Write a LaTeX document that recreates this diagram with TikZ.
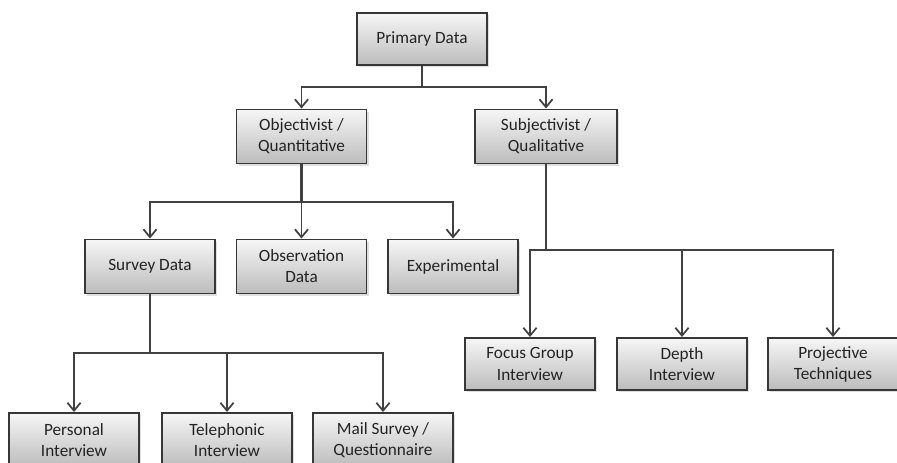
\documentclass[tikz,border=0pt]{standalone}
\usepackage{fontspec}
\setmainfont{Carlito}
\usepackage{xcolor}
\definecolor{boxline}{RGB}{55,55,55}
\definecolor{linkline}{RGB}{65,65,65}
\definecolor{boxtop}{RGB}{246,246,246}
\definecolor{boxbottom}{RGB}{188,188,188}
\definecolor{boxtext}{RGB}{35,35,35}
\usepackage{tikz}
\usetikzlibrary{arrows.meta, positioning, shadows}

\begin{document}
\begin{tikzpicture}[x=0.02cm, y=-0.02cm,
  databox/.style={draw=boxline, line width=1.1pt, top color=boxtop, bottom color=boxbottom,
    minimum width=2.6cm, minimum height=1.08cm, inner sep=2pt, align=center,
    text=boxtext, font=\fontsize{9.8}{12}\selectfont,
    drop shadow={shadow xshift=1.2pt, shadow yshift=-1.4pt, opacity=0.25}},
  trunk/.style={draw=linkline, line width=1.5pt},
  branch/.style={draw=linkline, line width=1pt, -{Straight Barb[length=4.5pt, width=7.5pt, line width=1pt]}}]
  \useasboundingbox (0,0) rectangle (897,463);

  % top level
  \node[databox, minimum height=1.04cm] (primary) at (422,39) {Primary Data};

  % second level
  \node[databox] (objective) at (301.5,136.5) {Objectivist /\\Quantitative};
  \node[databox, minimum width=2.84cm] (subjective) at (546,136.5) {Subjectivist /\\Qualitative};

  % objectivist branch
  \node[databox] (survey) at (150,266.5) {Survey Data};
  \node[databox] (observe) at (301.5,266.5) {Observation\\Data};
  \node[databox] (experiment) at (453,266.5) {Experimental};

  % subjectivist branch
  \node[databox, minimum height=1.04cm] (focus) at (530,364) {Focus Group\\Interview};
  \node[databox, minimum height=1.04cm] (depth) at (682,364) {Depth\\Interview};
  \node[databox, minimum height=1.04cm] (projective) at (833,364) {Projective\\Techniques};

  % survey branch
  \node[databox] (personal) at (74,440) {Personal\\Interview};
  \node[databox] (phone) at (227,440) {Telephonic\\Interview};
  \node[databox, minimum width=2.8cm] (mail) at (383,440) {Mail Survey /\\Questionnaire};

  % junctions
  \coordinate (jprimary) at (422,87);
  \coordinate (jobjective) at (301.5,202);
  \coordinate (jsubjective) at (546,250);
  \coordinate (jsurvey) at (150,353);

  % connectors
  \draw[trunk] (primary.south) -- (jprimary);
  \draw[branch] (jprimary) -| (objective);
  \draw[branch] (jprimary) -| (subjective);

  \draw[trunk] (objective.south) -- (jobjective);
  \draw[branch] (jobjective) -| (survey);
  \draw[branch] (jobjective) -- (observe);
  \draw[branch] (jobjective) -| (experiment);

  \draw[trunk] (subjective.south) -- (jsubjective);
  \draw[branch] (jsubjective) -| (focus);
  \draw[branch] (jsubjective) -| (depth);
  \draw[branch] (jsubjective) -| (projective);

  \draw[trunk] (survey.south) -- (jsurvey);
  \draw[branch] (jsurvey) -| (personal);
  \draw[branch] (jsurvey) -| (phone);
  \draw[branch] (jsurvey) -| (mail);
\end{tikzpicture}
\end{document}
